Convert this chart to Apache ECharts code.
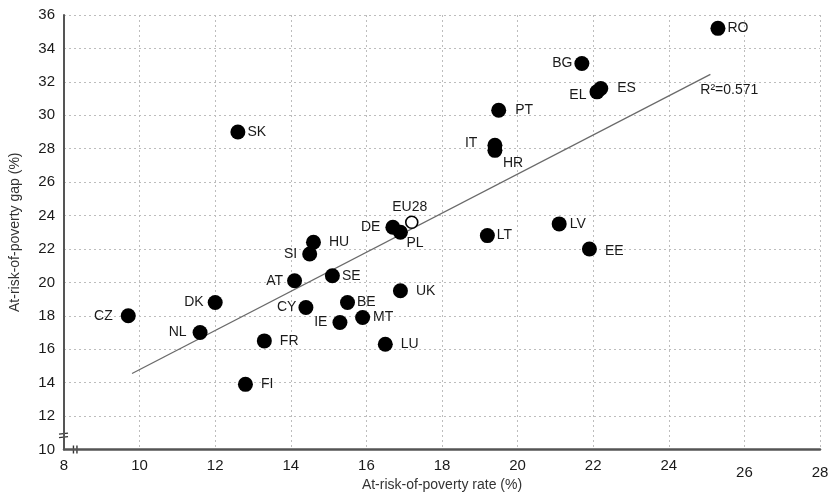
<!DOCTYPE html>
<html>
<head>
<meta charset="utf-8">
<script src="https://cdn.jsdelivr.net/npm/echarts@6/dist/echarts.min.js"></script>
<style>
html,body{margin:0;padding:0;background:#fff;}
#chart{width:835px;height:496px;}
</style>
</head>
<body>
<div id="chart"></div>
<script>
// ---- data ----
const countries = ['RO','BG','EL','ES','PT','IT','HR','SK','DE','PL','LV','LT','EE','HU','SI','AT','SE','UK','DK','BE','CY','CZ','MT','IE','NL','FR','LU','FI'];
const povertyRate = [25.3,21.7,22.1,22.2,19.5,19.4,19.4,12.6,16.7,16.9,21.1,19.2,21.9,14.6,14.5,14.1,15.1,16.9,12.0,15.5,14.4,9.7,15.9,15.3,11.6,13.3,16.5,12.8];
const povertyGap  = [35.2,33.1,31.4,31.6,30.3,28.2,27.9,29.0,23.3,23.0,23.5,22.8,22.0,22.4,21.7,20.1,20.4,19.5,18.8,18.8,18.5,18.0,17.9,17.6,17.0,16.5,16.3,13.9];
const euLabel = 'EU28';
const euRate = 17.2;
const euGap = 23.6;
const trendX = [9.8, 25.1];
const trendY = [14.55, 32.45];
const rSquaredText = 'R²=0.571';
const xTicks = [8,10,12,14,16,18,20,22,24,26,28];
const yTicks = [10,12,14,16,18,20,22,24,26,28,30,32,34,36];

// ---- label placement (style, not data) ----
const labelPlacement = {
  RO:['right',2], BG:['left',2], EL:['left',3], ES:['right',9], PT:['right',9],
  IT:['left',10], HR:['bottomRight',0], SK:['right',2], DE:['left',5], PL:['bottomRight',0],
  LV:['right',3], LT:['right',2], EE:['right',8], HU:['right',8], SI:['left',5],
  AT:['left',4], SE:['right',2], UK:['right',8], DK:['left',4], BE:['right',2],
  CY:['left',2], CZ:['left',8], MT:['right',3], IE:['left',5], NL:['left',6],
  FR:['right',8], LU:['right',8], FI:['right',8]
};
const labelOffset = { EL:[0,3], IT:[0,-2], HR:[6,2], PL:[4,0], EE:[0,2] };

const FONT = '"Liberation Sans", Arial, sans-serif';
const TXT = '#1a1a1a';

const pointData = countries.map((c, i) => {
  const pl = labelPlacement[c] || ['right', 5];
  const off = labelOffset[c] || [0, 0];
  const lab = { position: pl[0], distance: pl[1], offset: off };
  if (pl[0] === 'bottomRight') {
    lab.position = 'bottom';
    lab.distance = 0;
    lab.align = 'left';
    lab.offset = [off[0] + 2, off[1] - 4];
  }
  return { value: [povertyRate[i], povertyGap[i]], name: c, label: lab };
});

const chart = echarts.init(document.getElementById('chart'), null, { renderer: 'canvas' });

const option = {
  backgroundColor: '#fff',
  animation: false,
  grid: { left: 64, right: 15, top: 15, bottom: 46.5, containLabel: false, outerBoundsMode: 'none' },
  xAxis: {
    type: 'value', min: 8, max: 28, interval: 2,
    name: 'At-risk-of-poverty rate (%)', nameLocation: 'middle', nameGap: 29, nameMoveOverlap: false,
    nameTextStyle: { fontFamily: FONT, fontSize: 14, color: '#333' },
    axisLine: { show: true, onZero: false, lineStyle: { color: '#555', width: 2.5 } },
    axisTick: { show: false },
    axisLabel: {
      margin: 9, fontFamily: FONT, fontSize: 15, color: TXT,
      formatter: v => (v >= 26 ? '{low|' + v + '}' : String(v)),
      rich: { low: { fontFamily: FONT, fontSize: 15, color: TXT, padding: [7, 0, 0, 0] } }
    },
    splitLine: { show: true, lineStyle: { color: '#bdbdbd', type: [2, 3], width: 1 } }
  },
  yAxis: {
    type: 'value', min: 10, max: 36, interval: 2,
    name: 'At-risk-of-poverty gap (%)', nameLocation: 'middle', nameGap: 42, nameMoveOverlap: false,
    nameTextStyle: { fontFamily: FONT, fontSize: 14, color: '#333' },
    axisLine: { show: true, onZero: false, lineStyle: { color: '#555', width: 2 } },
    axisTick: { show: false },
    axisLabel: { margin: 9, fontFamily: FONT, fontSize: 15, color: TXT },
    splitLine: { show: true, lineStyle: { color: '#bdbdbd', type: [2, 3], width: 1 } }
  },
  series: [
    {
      type: 'line',
      data: trendX.map((x, i) => [x, trendY[i]]),
      showSymbol: false, symbol: 'none',
      lineStyle: { color: '#6a6a6a', width: 1.3 },
      silent: true, z: 2
    },
    {
      type: 'scatter',
      data: pointData,
      symbolSize: 15,
      itemStyle: { color: '#000', opacity: 1 },
      label: {
        show: true, formatter: p => p.name,
        fontFamily: FONT, fontSize: 14, color: TXT
      },
      z: 3
    },
    {
      type: 'scatter',
      data: [{ value: [euRate, euGap], name: euLabel }],
      symbolSize: 12,
      itemStyle: { color: '#fff', borderColor: '#000', borderWidth: 1.6, opacity: 1 },
      label: {
        show: true, position: 'top', distance: 1, offset: [-2, 0],
        formatter: p => p.name, fontFamily: FONT, fontSize: 14, color: TXT
      },
      z: 4
    }
  ]
};
chart.setOption(option);

// decorations: axis-break marks and R² annotation
function px(v) { return chart.convertToPixel({ gridIndex: 0 }, v); }
const origin = px([8, 10]);
const yb = px([8, 10.8]);
const g = [];
g.push({ type: 'line', shape: { x1: origin[0] - 5, y1: yb[1] - 2, x2: origin[0] + 4, y2: yb[1] - 3 }, style: { stroke: '#333', lineWidth: 1.4 } });
g.push({ type: 'line', shape: { x1: origin[0] - 5, y1: yb[1] + 1.5, x2: origin[0] + 4, y2: yb[1] + 0.5 }, style: { stroke: '#333', lineWidth: 1.4 } });
const xb = px([8.25, 10]);
g.push({ type: 'line', shape: { x1: xb[0], y1: origin[1] - 4, x2: xb[0], y2: origin[1] + 4 }, style: { stroke: '#333', lineWidth: 1.4 } });
g.push({ type: 'line', shape: { x1: xb[0] + 3.5, y1: origin[1] - 4, x2: xb[0] + 3.5, y2: origin[1] + 4 }, style: { stroke: '#333', lineWidth: 1.4 } });
const rp = px([25.6, 31.5]);
g.push({ type: 'text', x: rp[0], y: rp[1], style: { text: rSquaredText, font: '14px ' + FONT, fill: TXT, textAlign: 'center', textVerticalAlign: 'middle' }, z: 10 });
chart.setOption({ graphic: g });
</script>
</body>
</html>
